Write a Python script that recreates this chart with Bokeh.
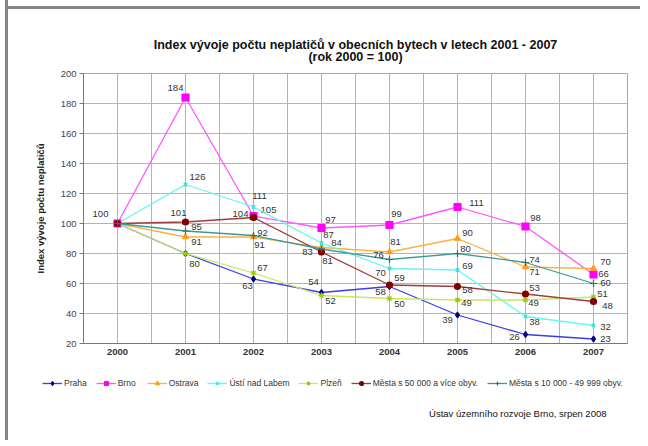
from bokeh.plotting import figure
from bokeh.layouts import row, column
from bokeh.models import (ColumnDataSource, FixedTicker, Legend, LegendItem, Range1d, Div)
from bokeh.core.properties import value
from bokeh.embed import file_html
from bokeh.resources import INLINE

# ---- data ----
years = [2000, 2001, 2002, 2003, 2004, 2005, 2006, 2007]
praha = [100, 80, 63, 54, 58, 39, 26, 23]
brno = [100, 184, 105, 97, 99, 111, 98, 66]
ostrava = [100, 91, 91, 84, 81, 90, 71, 70]
usti = [100, 126, 111, 87, 70, 69, 38, 32]
plzen = [100, 80, 67, 52, 50, 49, 49, 51]
mesta50 = [100, 101, 104, 81, 59, 58, 53, 48]
mesta10 = [100, 95, 92, 83, 76, 80, 74, 60]
series_names = ["Praha", "Brno", "Ostrava", "Ústí nad Labem", "Plzeň",
                "Města s 50 000 a více obyv.", "Města s 10 000 - 49 999 obyv."]
y_ticks = [20, 40, 60, 80, 100, 120, 140, 160, 180, 200]
title_lines = ["Index vývoje počtu neplatičů v obecních bytech v letech 2001 - 2007",
               "(rok 2000 = 100)"]
footer = "Ústav územního rozvoje Brno, srpen 2008"
y_label = "Index vývoje počtu neplatičů"

# ---- styles ----
line_colors = ["#3b3bf0", "#ff55ff", "#ffb040", "#66f5f0", "#c8e860", "#a03c3c", "#3a9a9a"]
marker_colors = ["#000080", "#ff00ff", "#ff9c1a", "#33e0e0", "#99cc00", "#800000", "#1f7878"]
markers = ["diamond", "square", "triangle", "x", "asterisk", "circle", "cross"]
marker_sizes = [6, 7, 6, 5, 6, 6, 7]
# label offsets in px (dx, dy up); None = no label
offsets = [
    [(-17, 10), (9, -10), (-6, -7), (-8, 11), (-9, -5), (-10, -5), (-11, -2), (12, 0)],
    [None, (-10, 10), (15, 6), (9, 8), (7, 11), (19, 4), (10, 9), (10, 1)],
    [None, (11, -5), (6, -8), (15, 5), (6, 10), (10, 6), (9, -5), (12, 7)],
    [None, (12, 8), (6, 11), (7, 8), (-9, -4), (10, 4), (9, -5), (12, -1)],
    [None, None, (9, 5), (9, -5), (10, -5), (9, -3), (8, -3), (9, 3)],
    [None, (-7, 9), (-13, 4), (6, -9), (10, 7), (10, -3), (9, 6), (14, -4)],
    [None, (11, 4), (9, 3), (-14, -3), (-11, 5), (8, 5), (9, 3), (12, 1)],
]

FONT = "Liberation Sans"
BORDER = "#858585"
W = 632
MBL, MBR = 75, 13

# ---- title strip (frame spans the strip; coordinates are page pixels) ----
t = figure(width=W, height=56, output_backend="svg", toolbar_location=None,
           x_range=Range1d(83, 627), y_range=Range1d(65, 9),
           x_axis_type=None, y_axis_type=None,
           min_border_left=MBL, min_border_right=MBR, min_border_top=0, min_border_bottom=0)
t.grid.visible = False
t.outline_line_color = None
t.text(x=[355, 355], y=[44, 56], text=title_lines, text_align="center", text_baseline="middle",
       text_font=value(FONT), text_font_size="12.5px", text_font_style="bold", text_color="#111111")

# ---- main chart ----
p = figure(width=W, height=297, output_backend="svg", toolbar_location=None,
           x_range=Range1d(years[0] - 0.5, years[-1] + 0.5), y_range=Range1d(20, 200),
           min_border_left=MBL, min_border_right=MBR, min_border_top=8, min_border_bottom=19)
p.background_fill_color = "white"
p.border_fill_color = "white"
p.outline_line_color = "#a8a8a8"
p.outline_line_width = 1

p.xgrid.ticker = FixedTicker(ticks=[y + d for y in years for d in (-0.5, 0.0)] + [years[-1] + 0.5])
p.ygrid.ticker = FixedTicker(ticks=y_ticks)
p.xgrid.grid_line_color = "#b4b4b4"
p.ygrid.grid_line_color = "#b4b4b4"

p.xaxis.ticker = FixedTicker(ticks=years)
p.xaxis.major_tick_line_color = None
p.xaxis.minor_tick_line_color = None
p.xaxis.major_tick_out = 0
p.xaxis.axis_line_color = "#777777"
p.xaxis.major_label_text_font = FONT
p.xaxis.major_label_text_font_size = "9.5px"
p.xaxis.major_label_text_font_style = "bold"
p.xaxis.major_label_text_color = "#333333"
p.xaxis.major_label_standoff = 5

p.yaxis.ticker = FixedTicker(ticks=y_ticks)
p.yaxis.minor_tick_line_color = None
p.yaxis.major_tick_out = 4
p.yaxis.major_tick_in = 0
p.yaxis.axis_line_color = "#777777"
p.yaxis.major_tick_line_color = "#777777"
p.yaxis.major_label_text_font = FONT
p.yaxis.major_label_text_font_size = "9.5px"
p.yaxis.major_label_text_color = "#444444"
p.yaxis.major_label_standoff = 3
p.yaxis.axis_label = y_label
p.yaxis.axis_label_text_font = FONT
p.yaxis.axis_label_text_font_size = "9.5px"
p.yaxis.axis_label_text_font_style = "bold"
p.yaxis.axis_label_text_color = "#222222"
p.yaxis.axis_label_standoff = 12

# ---- bottom strip with legend and footer (coordinates are page pixels) ----
q = figure(width=W, height=78, output_backend="svg", toolbar_location=None,
           x_range=Range1d(8, 8 + W), y_range=Range1d(440, 362),
           x_axis_type=None, y_axis_type=None,
           min_border_left=0, min_border_right=0, min_border_top=0, min_border_bottom=0)
q.frame_align = False
q.grid.visible = False
q.outline_line_color = None

all_series = [praha, brno, ostrava, usti, plzen, mesta50, mesta10]
items = []
for i, vals in enumerate(all_series):
    src = ColumnDataSource(dict(x=years, y=vals))
    p.line("x", "y", source=src, line_color=line_colors[i], line_width=1.3)
    p.scatter("x", "y", source=src, marker=markers[i], size=marker_sizes[i],
              fill_color=marker_colors[i], line_color=marker_colors[i], line_width=1.2)
    lx, ly, lt, ox, oy = [], [], [], [], []
    for j, v in enumerate(vals):
        off = offsets[i][j]
        if off is None:
            continue
        lx.append(years[j]); ly.append(v); lt.append(str(v))
        ox.append(off[0]); oy.append(-off[1])
    tsrc = ColumnDataSource(dict(x=lx, y=ly, t=lt, ox=ox, oy=oy))
    p.text("x", "y", text="t", source=tsrc, x_offset="ox", y_offset="oy",
           text_align="center", text_baseline="middle", text_font=value(FONT),
           text_font_size="9.5px", text_color="#333333")
    # legend proxies (same data; lies outside the strip's ranges, so only the legend shows them)
    lr = q.line("x", "y", source=src, line_color=line_colors[i], line_width=1.3)
    sr = q.scatter("x", "y", source=src, marker=markers[i], size=marker_sizes[i] - 1,
                   fill_color=marker_colors[i], line_color=marker_colors[i], line_width=1.2)
    items.append(LegendItem(label=series_names[i], renderers=[lr, sr]))

legend = Legend(items=items, orientation="horizontal", location=(34, 52))
legend.label_text_font = FONT
legend.label_text_font_size = "8.5px"
legend.label_text_color = "#333333"
legend.glyph_width = 20
legend.glyph_height = 10
legend.label_standoff = 2
legend.spacing = 9
legend.padding = 0
legend.margin = 0
legend.border_line_color = None
legend.background_fill_alpha = 0
legend.label_height = 10
q.add_layout(legend, "center")

q.text(x=[606], y=[413], text=[footer], text_align="right", text_baseline="middle",
       text_font=value(FONT), text_font_size="9.5px", text_color="#111111")

Z = (0, 0, 0, 0)
left_gap = Div(width=5, height=440, margin=Z)
left_bar = Div(width=3, height=440, margin=Z, styles={"background-color": BORDER})
top_gap = Div(width=W, height=6, margin=Z)
top_bar = Div(width=W, height=3, margin=Z, styles={"background-color": BORDER})
layout = row(left_gap, left_bar, column(top_gap, top_bar, t, p, q, spacing=0), spacing=0)

open("out.html", "w").write(file_html(layout, INLINE))
